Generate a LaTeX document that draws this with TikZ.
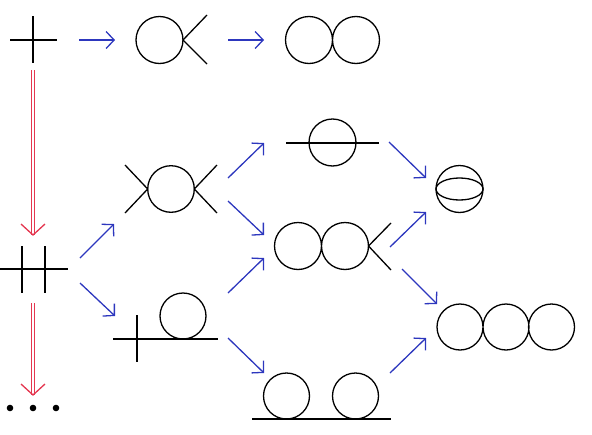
\documentclass[tikz,border=0pt]{standalone}
\usetikzlibrary{arrows.meta}
\definecolor{arrblue}{RGB}{45,55,190}
\definecolor{arrred}{RGB}{228,55,80}
\begin{document}
\begin{tikzpicture}[x=1pt,y=-1pt,
  diag/.style={black, line width=1.3pt},
  flow/.style={arrblue, line width=1.3pt, -{Straight Barb[length=8pt,width=17pt]}},
  redshaft/.style={arrred, line width=1.2pt},
  redhead/.style={arrred, line width=1.3pt}]
\useasboundingbox (0,0) rectangle (592,434);

% ---- diagram centres
\coordinate (cross) at (33,40);
\coordinate (loopV) at (160,40);
\coordinate (eight) at (332.5,40);
\coordinate (dcross) at (33,269);
\coordinate (dots) at (33,408);
\coordinate (xloop) at (171,189);
\coordinate (tad) at (165,330);
\coordinate (sunset) at (332.5,143);
\coordinate (eightV) at (321,246);
\coordinate (twoline) at (321,396);
\coordinate (melon) at (459.5,189);
\coordinate (three) at (505.5,327);

% ---- diagrams
% cross
\draw[diag] (10,40) -- (57,40) (33,16) -- (33,63);
% loop with V
\draw[diag] (159.5,40) circle (23.5);
\draw[diag] (207,15) -- (183,40) -- (207,64);
% figure eight
\draw[diag] (309,40) circle (23.5) (356,40) circle (23.5);
% double cross
\draw[diag] (0,269) -- (68,269) (22,246) -- (22,293) (45,246) -- (45,293);
% dots
\fill (10,408) circle (3.3) (33,408) circle (3.3) (56,408) circle (3.3);
% X loop
\draw[diag] (171,189) circle (23.3);
\draw[diag] (125,165) -- (147.7,189) -- (125,213);
\draw[diag] (217,165) -- (194.3,189) -- (217,213);
% tadpole
\draw[diag] (113,339) -- (218,339) (137,315) -- (137,362);
\draw[diag] (183,316) circle (23);
% sunset
\draw[diag] (286,143) -- (379,143);
\draw[diag] (332.5,142.5) circle (23.5);
% eight with V
\draw[diag] (298,246) circle (23.5) (345,246) circle (23.5);
\draw[diag] (391,223) -- (368.5,246) -- (391,270);
% two circles on line
\draw[diag] (252,419) -- (391,419);
\draw[diag] (286.5,396) circle (23) (355.5,396) circle (23);
% melon
\draw[diag] (459.5,189) circle (23.5);
\draw[diag] (459.5,189) ellipse [x radius=23.5, y radius=11];
% three circles
\draw[diag] (460,327) circle (23) (506,327) circle (23) (551.5,327) circle (23);

% ---- connector end points
\coordinate (a1s) at (79,40);   \coordinate (a1e) at (115,40);
\coordinate (a2s) at (228,40);  \coordinate (a2e) at (264,40);
\coordinate (b1s) at (80,258);  \coordinate (b1e) at (114,224);
\coordinate (b2s) at (80,283);  \coordinate (b2e) at (115,316);
\coordinate (c1s) at (228,178); \coordinate (c1e) at (264,143);
\coordinate (c2s) at (228,201); \coordinate (c2e) at (264,235);
\coordinate (c3s) at (228,293); \coordinate (c3e) at (264,258);
\coordinate (c4s) at (228,338); \coordinate (c4e) at (264,373);
\coordinate (d1s) at (389,142); \coordinate (d1e) at (426,178);
\coordinate (d2s) at (390,247); \coordinate (d2e) at (426,212);
\coordinate (d3s) at (402,269); \coordinate (d3e) at (437,304);
\coordinate (d4s) at (390,373); \coordinate (d4e) at (426,338);

\foreach \n in {a1,a2,b1,b2,c1,c2,c3,c4,d1,d2,d3,d4}
  \draw[flow] (\n s) -- (\n e);

% ---- red double arrows
\coordinate (r1s) at (33,70);  \coordinate (r1e) at (33,235);
\coordinate (r2s) at (33,303); \coordinate (r2e) at (33,395);
\foreach \n in {r1,r2}{
  \draw[redshaft] ([xshift=-1.7pt]\n s) -- ([xshift=-1.7pt]\n e);
  \draw[redshaft] ([xshift=1.7pt]\n s) -- ([xshift=1.7pt]\n e);
  \draw[redhead] ([shift={(-12,-11)}]\n e) -- (\n e) -- ([shift={(12,-11)}]\n e);
}
\end{tikzpicture}
\end{document}
